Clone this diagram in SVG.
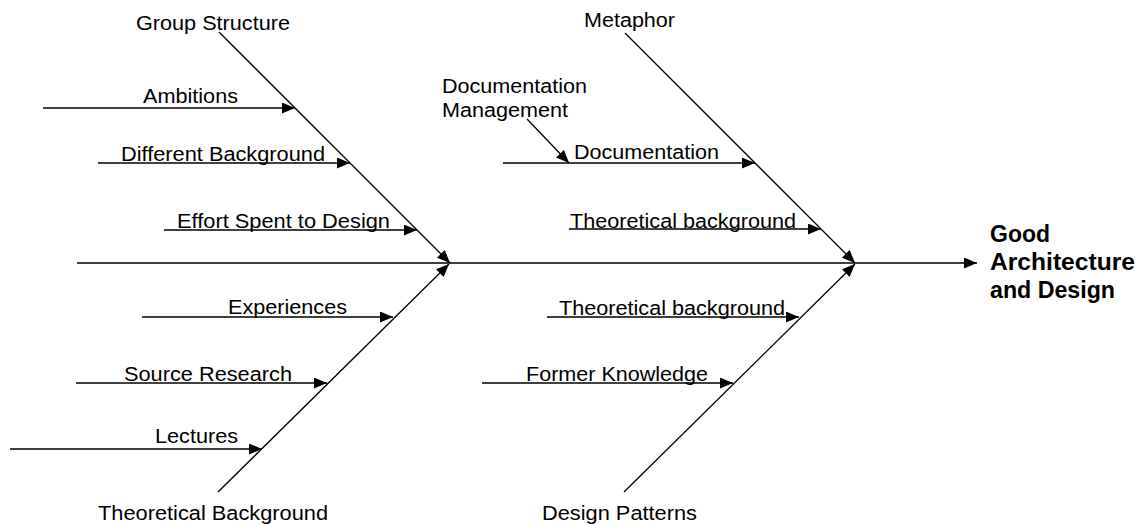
<svg xmlns="http://www.w3.org/2000/svg" width="1143" height="525" viewBox="0 0 1143 525">
<defs>
<marker id="ah" markerUnits="userSpaceOnUse" markerWidth="14" markerHeight="12" refX="13" refY="5.5" orient="auto">
<path d="M0,0 L13,5.5 L0,11 z" fill="#000"/>
</marker>
<style>
.c{stroke:#000;stroke-width:1.3;fill:none;marker-end:url(#ah)}
.t{font-family:"Liberation Sans",Arial,sans-serif;font-size:20px;fill:#000}
.b{font-family:"Liberation Sans",Arial,sans-serif;font-size:23px;font-weight:bold;fill:#000}
</style>
</defs>
<rect width="1143" height="525" fill="#fff"/>
<g id="connectors">
<line class="c" x1="77" y1="263" x2="977" y2="263"/>
<line class="c" x1="219" y1="32" x2="450" y2="263"/>
<line class="c" x1="218" y1="492" x2="449" y2="264"/>
<line class="c" x1="625" y1="33" x2="855" y2="263"/>
<line class="c" x1="624" y1="492" x2="855" y2="264"/>
<line class="c" x1="43" y1="108" x2="295" y2="108"/>
<line class="c" x1="98" y1="163" x2="350" y2="163"/>
<line class="c" x1="164" y1="230" x2="417" y2="230"/>
<line class="c" x1="142" y1="317" x2="393" y2="317"/>
<line class="c" x1="76" y1="383" x2="327" y2="383"/>
<line class="c" x1="10" y1="449" x2="262" y2="449"/>
<line class="c" x1="503" y1="163" x2="755" y2="163"/>
<line class="c" x1="527" y1="119" x2="569" y2="163"/>
<line class="c" x1="569" y1="229" x2="821" y2="229"/>
<line class="c" x1="547" y1="317" x2="799" y2="317"/>
<line class="c" x1="482" y1="383" x2="733" y2="383"/>
</g>
<g id="group-structure"><text class="t" x="136" y="30" textLength="154" lengthAdjust="spacingAndGlyphs">Group Structure</text></g>
<g id="ambitions"><text class="t" x="143" y="103" textLength="95" lengthAdjust="spacingAndGlyphs">Ambitions</text></g>
<g id="different-background"><text class="t" x="121" y="161" textLength="204" lengthAdjust="spacingAndGlyphs">Different Background</text></g>
<g id="effort-spent"><text class="t" x="177" y="228" textLength="213" lengthAdjust="spacingAndGlyphs">Effort Spent to Design</text></g>
<g id="experiences"><text class="t" x="228" y="314" textLength="119" lengthAdjust="spacingAndGlyphs">Experiences</text></g>
<g id="source-research"><text class="t" x="124" y="381" textLength="168" lengthAdjust="spacingAndGlyphs">Source Research</text></g>
<g id="lectures"><text class="t" x="155" y="443" textLength="83" lengthAdjust="spacingAndGlyphs">Lectures</text></g>
<g id="theoretical-background-main"><text class="t" x="98" y="520" textLength="230" lengthAdjust="spacingAndGlyphs">Theoretical Background</text></g>
<g id="metaphor"><text class="t" x="584" y="27" textLength="91" lengthAdjust="spacingAndGlyphs">Metaphor</text></g>
<g id="documentation-management"><text class="t" x="442" y="93" textLength="145" lengthAdjust="spacingAndGlyphs">Documentation</text><text class="t" x="442" y="117" textLength="126" lengthAdjust="spacingAndGlyphs">Management</text></g>
<g id="documentation"><text class="t" x="574" y="159" textLength="145" lengthAdjust="spacingAndGlyphs">Documentation</text></g>
<g id="theoretical-background-upper"><text class="t" x="570" y="228" textLength="226" lengthAdjust="spacingAndGlyphs">Theoretical background</text></g>
<g id="theoretical-background-lower"><text class="t" x="559" y="315" textLength="226" lengthAdjust="spacingAndGlyphs">Theoretical background</text></g>
<g id="former-knowledge"><text class="t" x="526" y="381" textLength="182" lengthAdjust="spacingAndGlyphs">Former Knowledge</text></g>
<g id="design-patterns"><text class="t" x="542" y="520" textLength="155" lengthAdjust="spacingAndGlyphs">Design Patterns</text></g>
<g id="good-architecture"><text class="b" x="990" y="242">Good</text><text class="b" x="990" y="270" textLength="145" lengthAdjust="spacingAndGlyphs">Architecture</text><text class="b" x="990" y="298" textLength="125" lengthAdjust="spacingAndGlyphs">and Design</text></g>
</svg>
